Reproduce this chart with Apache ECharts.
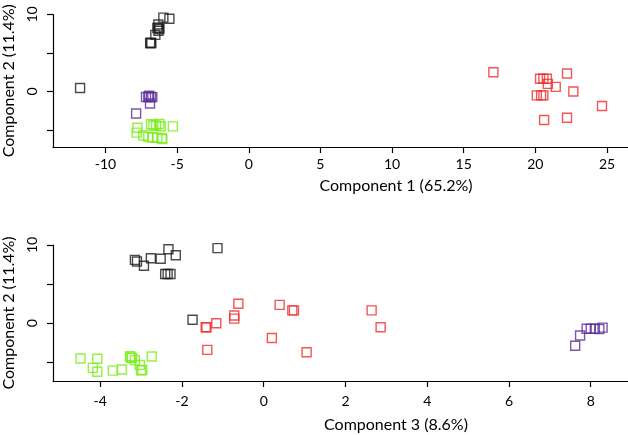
<!DOCTYPE html>
<html><head><meta charset="utf-8">
<script src="https://cdn.jsdelivr.net/npm/echarts@6/dist/echarts.min.js"></script>
<style>html,body{margin:0;padding:0;background:#fff}#c{width:628px;height:435px}</style>
</head><body><div id="c"></div>
<script>
// Group samples: Component 1, Component 2, Component 3
const blackC1 = [-5.96, -5.54, -6.31, -6.26, -6.38, -6.24, -6.30, -6.52, -6.84, -6.80, -6.88, -11.77];
const blackC2 = [9.6, 9.45, 8.7, 8.3, 8.25, 8.1, 7.9, 7.35, 6.3, 6.3, 6.3, 0.45];
const blackC3 = [-1.13, -2.33, -2.15, -2.76, -2.52, -3.15, -3.10, -2.93, -2.41, -2.35, -2.28, -1.74];

const purpleC1 = [-7.86, -6.89, -7.17, -7.01, -6.82, -6.73, -6.95];
const purpleC2 = [-2.86, -1.55, -0.7, -0.7, -0.7, -0.72, -0.55];
const purpleC3 = [7.62, 7.74, 7.90, 8.00, 8.10, 8.21, 8.29];

const greenC1 = [-6.24, -6.82, -6.47, -6.66, -6.14, -5.30, -7.77, -7.82, -7.36, -7.01, -6.70, -6.38, -6.07, -6.03];
const greenC2 = [-4.2, -4.25, -4.4, -4.4, -4.5, -4.52, -4.7, -5.33, -5.7, -5.9, -5.96, -6.0, -6.05, -6.18];
const greenC3 = [-3.27, -2.74, -3.22, -3.25, -4.48, -4.07, -3.15, -3.03, -4.18, -3.47, -2.97, -3.0, -3.69, -4.07];

const redC1 = [17.07, 22.21, 20.33, 20.56, 20.80, 20.87, 21.42, 22.65, 20.10, 20.40, 20.56, 24.65, 22.21, 20.61];
const redC2 = [2.5, 2.35, 1.65, 1.65, 1.65, 1.0, 0.6, 0.0, -0.5, -0.5, -0.5, -1.87, -3.4, -3.7];
const redC3 = [-0.62, 0.39, 0.74, 2.64, 0.70, -0.72, -0.72, -1.16, -1.42, 2.86, -1.40, 0.20, -1.38, 1.05];

const xTicksTop = [-10, -5, 0, 5, 10, 15, 20, 25];
const xTicksBottom = [-4, -2, 0, 2, 4, 6, 8];
const yTicks = [-5, 0, 5, 10];
const yLabels = [0, 10];

const groups = [
  {name: 'black', color: '#1e1e1e', c1: blackC1, c2: blackC2, c3: blackC3},
  {name: 'purple', color: '#5b2c96', c1: purpleC1, c2: purpleC2, c3: purpleC3},
  {name: 'green', color: '#77ee11', c1: greenC1, c2: greenC2, c3: greenC3},
  {name: 'red', color: '#ee2c2c', c1: redC1, c2: redC2, c3: redC3}
];

const FONT = 'Lato';
const series = [];
groups.forEach(g => {
  series.push({
    type: 'scatter', name: g.name, xAxisIndex: 0, yAxisIndex: 0,
    symbol: 'rect', symbolSize: 9,
    itemStyle: {color: 'rgba(0,0,0,0)', borderColor: g.color, borderWidth: 1.4},
    data: g.c1.map((v, i) => [v, g.c2[i]])
  });
  series.push({
    type: 'scatter', name: g.name, xAxisIndex: 1, yAxisIndex: 1,
    symbol: 'rect', symbolSize: 9,
    itemStyle: {color: 'rgba(0,0,0,0)', borderColor: g.color, borderWidth: 1.4},
    data: g.c3.map((v, i) => [v, g.c2[i]])
  });
});

function xAxis(idx, min, max, ticks, name, margin, gap) {
  return {
    type: 'value', gridIndex: idx, min: min, max: max,
    axisLine: {onZero: false, lineStyle: {color: '#000', width: 1.2}},
    axisTick: {customValues: ticks, length: 6, lineStyle: {color: '#000', width: 1.2}},
    axisLabel: {customValues: ticks, margin: margin, fontSize: 14, color: '#000', fontFamily: FONT},
    splitLine: {show: false},
    name: name, nameLocation: 'middle', nameGap: gap,
    nameTextStyle: {fontSize: 16, color: '#000', fontFamily: FONT}
  };
}
function yAxis(idx, min) {
  return {
    type: 'value', gridIndex: idx, min: min, max: 10,
    axisLine: {onZero: false, lineStyle: {color: '#000', width: 1.2}},
    axisTick: {customValues: yTicks, length: 6, lineStyle: {color: '#000', width: 1.2}},
    axisLabel: {customValues: yLabels, rotate: 90, margin: 14, fontSize: 14, color: '#000', fontFamily: FONT},
    splitLine: {show: false},
    name: 'Component 2 (11.4%)', nameLocation: 'middle', nameGap: 36, nameRotate: 90,
    nameTextStyle: {fontSize: 16, color: '#000', fontFamily: FONT}
  };
}

const chart = echarts.init(document.getElementById('c'), null, {renderer: 'canvas'});
chart.setOption({
  animation: false,
  backgroundColor: '#fff',
  grid: [
    {left: 53, top: 14.5, width: 686, height: 132.5, outerBoundsMode: 'none', containLabel: false},
    {left: 53, top: 245, width: 686, height: 136, outerBoundsMode: 'none', containLabel: false}
  ],
  xAxis: [
    xAxis(0, -13.66, 34.21, xTicksTop, 'Component 1 (65.2%)', 10, 31),
    xAxis(1, -5.154, 11.627, xTicksBottom, 'Component 3 (8.6%)', 13, 36)
  ],
  yAxis: [yAxis(0, -7.2), yAxis(1, -7.37)],
  series: series
});
</script></body></html>
